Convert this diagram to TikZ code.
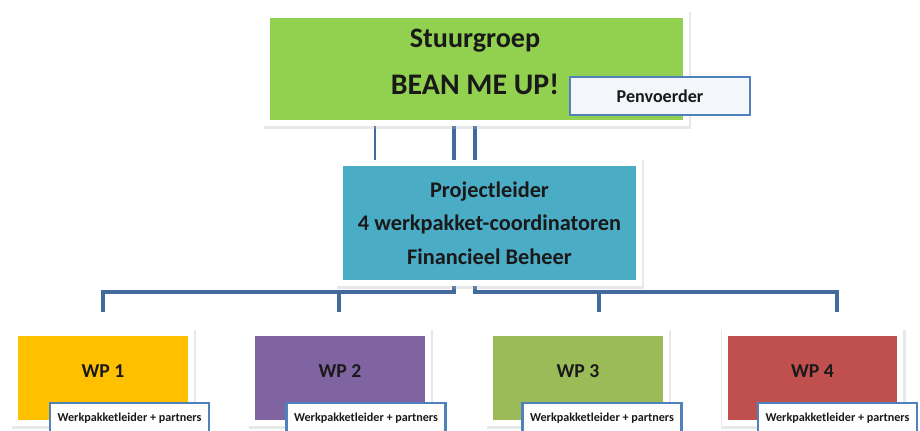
\documentclass[tikz,border=0pt]{standalone}
\usepackage{fontspec}
\setmainfont{Carlito}
\usetikzlibrary{positioning, shadows, backgrounds}

\definecolor{stuurgreen}{RGB}{146,208,80}
\definecolor{projblue}{RGB}{75,172,198}
\definecolor{wpyellow}{RGB}{255,192,0}
\definecolor{wppurple}{RGB}{128,100,162}
\definecolor{wpgreen}{RGB}{155,187,89}
\definecolor{wpred}{RGB}{192,80,77}
\definecolor{tagblue}{RGB}{79,129,189}
\definecolor{linkblue}{RGB}{66,106,154}
\definecolor{tagfill}{RGB}{243,246,250}

\begin{document}
\begin{tikzpicture}[
    x=0.02cm, y=-0.02cm,
    every node/.style={align=center, text=black!90},
    frame/.style={draw=white, line width=0.12cm, inner sep=0pt,
        general shadow={fill=black!30, draw=black!30, line width=0.17cm, opacity=.3,
            shadow xshift=0.5pt, shadow yshift=-0.9pt}},
    wpbox/.style={frame, minimum width=3.52cm, minimum height=1.8cm},
    tag/.style={draw=tagblue, line width=1.2pt, fill=white, inner sep=0pt,
        font=\bfseries\fontsize{6.9}{8}\selectfont},
    link/.style={draw=linkblue, line width=1.8pt}
]
\useasboundingbox (0,0) rectangle (920,430);

% Stuurgroep
\node[frame, fill=stuurgreen, minimum width=8.38cm, minimum height=2.16cm] (stuur) at (476.5,69) {};
\node[font=\bfseries\fontsize{16}{18}\selectfont] (stuurname) at (475,41) {Stuurgroep};
\node[font=\bfseries\fontsize{17}{20}\selectfont] (bean) at (475,84) {BEAN ME UP!};
\node[tag, fill=tagfill, line width=1.4pt, minimum width=3.6cm, minimum height=0.76cm,
    font=\bfseries\fontsize{10.3}{12}\selectfont] (pen) at (660,96) {Penvoerder};

% Projectleiding
\node[frame, fill=projblue, minimum width=5.98cm, minimum height=2.4cm,
    font=\bfseries\fontsize{12.7}{19}\selectfont] (proj) at (489.5,223)
    {Projectleider\\ 4 werkpakket-coordinatoren\\ Financieel Beheer};

% Werkpakketten
\foreach \i/\cx/\col/\tx in {1/103/wpyellow/129.5, 2/340/wppurple/366,
                             3/578/wpgreen/602, 4/812.5/wpred/837.5} {
  \node[wpbox, fill=\col] (wp\i) at (\cx,378) {};
  \node[font=\bfseries\fontsize{11.2}{13}\selectfont] (wp\i name) at (\cx,371) {WP \i};
  \node[tag, minimum width=3.18cm, minimum height=0.6cm] (wp\i tag) at (\tx,418)
    {Werkpakketleider + partners};
}

% Connectors
\coordinate (side) at (375,200);
\coordinate (splitl) at (454,292);
\coordinate (splitr) at (475,292);
\coordinate (drop1) at (103,312);
\coordinate (drop2) at (339,312);
\coordinate (drop3) at (599,312);
\coordinate (drop4) at (837,312);

\begin{scope}[on background layer]
\draw[link, line width=1.2pt] (stuur.south -| side) -- (proj.north -| side);
\draw[link] (stuur.south -| splitl) -- (splitl) -- (drop1 |- splitl) -- (drop1);
\draw[link] (splitl) -- (drop2 |- splitl) -- (drop2);
\draw[link] (stuur.south -| splitr) -- (splitr) -- (drop4 |- splitr) -- (drop4);
\draw[link] (drop3 |- splitr) -- (drop3);
\end{scope}
\end{tikzpicture}
\end{document}
